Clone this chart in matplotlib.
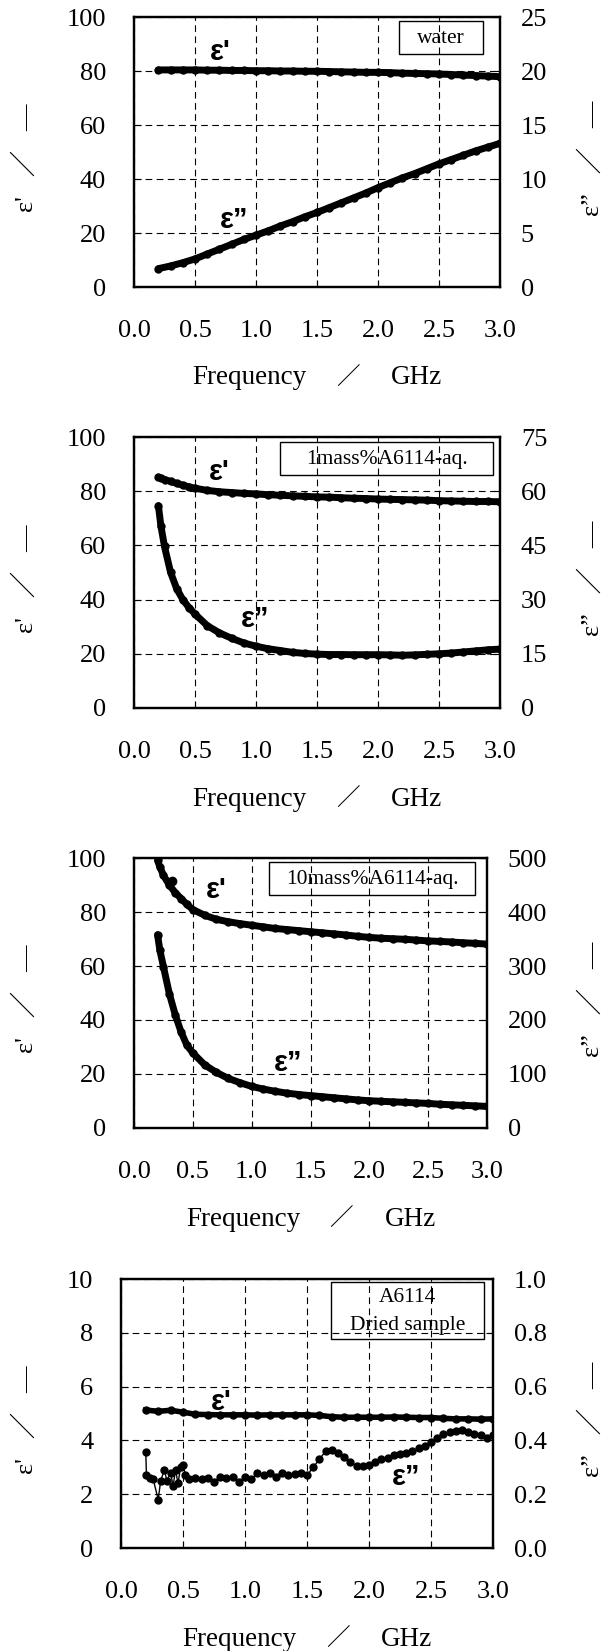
import matplotlib.pyplot as plt
from matplotlib.patches import Rectangle

plt.rcParams['font.family'] = ['Liberation Serif', 'Noto Sans CJK JP']

W, H = 613, 1651

# frequency grids (GHz)
freq_a = [0.2, 0.3, 0.4, 0.5, 0.6, 0.7, 0.8, 0.9, 1.0, 1.1, 1.2, 1.3, 1.4, 1.5,
          1.6, 1.7, 1.8, 1.9, 2.0, 2.1, 2.2, 2.3, 2.4, 2.5, 2.6, 2.7, 2.8, 2.9, 3.0]
freq_b = [0.2, 0.22, 0.25, 0.3, 0.35, 0.4, 0.45, 0.5, 0.6, 0.7, 0.8, 0.9, 1.0,
          1.1, 1.2, 1.3, 1.4, 1.5, 1.6, 1.7, 1.8, 1.9, 2.0, 2.1, 2.2, 2.3, 2.4,
          2.5, 2.6, 2.7, 2.8, 2.9, 3.0]

# water
water_e1 = [80.4, 80.4, 80.4, 80.4, 80.3, 80.3, 80.2, 80.2, 80.1, 80.1, 80.0,
            80.0, 79.9, 79.9, 79.8, 79.7, 79.6, 79.5, 79.5, 79.4, 79.2, 79.1,
            79.0, 78.9, 78.7, 78.5, 78.3, 78.1, 77.9]
water_e2 = [1.7, 1.95, 2.25, 2.6, 3.05, 3.5, 3.95, 4.4, 4.8, 5.2, 5.65, 6.05,
            6.5, 6.9, 7.35, 7.8, 8.25, 8.7, 9.2, 9.65, 10.1, 10.5, 10.95, 11.4,
            11.8, 12.2, 12.6, 12.95, 13.3]

# 1 mass% A6114 aq.
aq1_e1 = [85.2, 84.8, 84.3, 83.6, 82.9, 82.2, 81.6, 81.1, 80.3, 79.8, 79.5,
          79.2, 79.0, 78.7, 78.5, 78.3, 78.1, 77.9, 77.8, 77.6, 77.4, 77.3,
          77.1, 77.0, 76.9, 76.8, 76.7, 76.5, 76.4, 76.3, 76.2, 76.2, 76.1]
aq1_e2 = [56.0, 50.5, 44.7, 37.5, 33.0, 30.0, 27.8, 26.0, 22.8, 20.8, 19.3,
          18.0, 17.1, 16.4, 15.9, 15.4, 15.1, 14.9, 14.8, 14.8, 14.75, 14.75,
          14.75, 14.7, 14.6, 14.7, 14.85, 15.0, 15.2, 15.5, 15.8, 16.1, 16.3]

# 10 mass% A6114 aq.
aq10_e1 = [99.1, 96.7, 93.6, 90.0, 87.2, 85.0, 82.8, 80.9, 78.8, 77.3, 76.4,
           75.7, 75.1, 74.5, 73.9, 73.5, 73.1, 72.7, 72.3, 71.9, 71.5, 71.0,
           70.6, 70.3, 70.1, 69.9, 69.6, 69.3, 69.1, 68.9, 68.6, 68.4, 68.1]
aq10_e2 = [358, 329, 299, 249, 210, 178, 153, 139, 117, 103, 92, 84, 77, 72,
           68, 64.5, 62, 60, 58, 56, 54, 52, 50.5, 49.5, 48.5, 47.5, 46.5,
           45.5, 44, 43, 42, 41, 40]
aq10_spike_f = [0.32]
aq10_spike_e1 = [91.4]

# A6114 dried sample
dry_e1 = [5.13, 5.08, 5.12, 5.05, 4.97, 4.96, 4.95, 4.95, 4.95, 4.94, 4.95,
          4.95, 4.95, 4.95, 4.93, 4.88, 4.86, 4.86, 4.86, 4.86, 4.87, 4.86,
          4.85, 4.85, 4.82, 4.80, 4.80, 4.79, 4.80]
dry_f2 = [0.2, 0.205, 0.23, 0.26, 0.30, 0.32, 0.35, 0.37, 0.40, 0.42, 0.44,
          0.46, 0.48, 0.50, 0.52, 0.55, 0.6, 0.65, 0.7, 0.75, 0.8, 0.85, 0.9,
          0.95, 1.0, 1.05, 1.1, 1.15, 1.2, 1.25, 1.3, 1.35, 1.4, 1.45, 1.5,
          1.55, 1.6, 1.65, 1.7, 1.75, 1.8, 1.85, 1.9, 1.95, 2.0, 2.05, 2.1,
          2.15, 2.2, 2.25, 2.3, 2.35, 2.4, 2.45, 2.5, 2.55, 2.6, 2.65, 2.7,
          2.75, 2.8, 2.85, 2.9, 2.95, 3.0]
dry_e2 = [0.357, 0.272, 0.26, 0.255, 0.18, 0.25, 0.29, 0.25, 0.28, 0.23, 0.29,
          0.24, 0.30, 0.31, 0.27, 0.255, 0.26, 0.255, 0.26, 0.245, 0.265, 0.26,
          0.265, 0.245, 0.265, 0.255, 0.28, 0.27, 0.28, 0.265, 0.28, 0.27,
          0.275, 0.28, 0.27, 0.30, 0.33, 0.36, 0.365, 0.355, 0.34, 0.32, 0.305,
          0.305, 0.31, 0.32, 0.33, 0.335, 0.345, 0.35, 0.355, 0.36, 0.37, 0.38,
          0.395, 0.41, 0.425, 0.43, 0.435, 0.44, 0.43, 0.425, 0.42, 0.41, 0.42]

fig = plt.figure(figsize=(W / 100, H / 100), dpi=100)


def px_axes(l, t, r, b):
    return fig.add_axes([l / W, 1 - b / H, (r - l) / W, (b - t) / H])


def ftext(x, y, s, **kw):
    fig.text(x / W, 1 - y / H, s, **kw)


def panel(box, ylim1, yt1, ylim2, yt2, fmt1, fmt2):
    l, t, r, b = box
    ax = px_axes(l, t, r, b)
    ax2 = ax.twinx()
    ax.set_xlim(0, 3)
    ax.set_xticks([0, 0.5, 1.0, 1.5, 2.0, 2.5, 3.0])
    ax.set_xticklabels(['%.1f' % v for v in ax.get_xticks()])
    ax.set_ylim(*ylim1)
    ax.set_yticks(yt1)
    ax.set_yticklabels([fmt1 % v for v in yt1])
    ax2.set_ylim(*ylim2)
    ax2.set_yticks(yt2)
    ax2.set_yticklabels([fmt2 % v for v in yt2])
    ax.grid(True, color='black', linestyle=(0, (6, 4)), linewidth=0.8)
    ax.tick_params(axis='x', direction='in', length=5, labelsize=19, pad=24)
    ax.tick_params(axis='y', direction='in', length=5, labelsize=19, pad=20)
    ax2.tick_params(axis='y', direction='in', length=5, labelsize=19, pad=15)
    for a in (ax, ax2):
        for sp in a.spines.values():
            sp.set_linewidth(1.6)
    # axis titles
    cx = (l + r) / 2
    ly = b + 91
    ftext(cx - 10, ly, 'Frequency', ha='right', va='center', fontsize=19.5)
    ftext(cx + 31, ly, '／', ha='center', va='center', fontsize=17,
          family=['Noto Sans CJK JP'])
    ftext(cx + 74, ly, 'GHz', ha='left', va='center', fontsize=19.5)
    my = (t + b) / 2 + 6
    ftext(25, my, "ε'   ／   —", rotation=90, ha='center', va='center',
          fontsize=19)
    ftext(591, my, "ε”   ／   —", rotation=90, ha='center', va='center',
          fontsize=19)
    return ax, ax2


def legend_box(l, t, r, b, lines):
    fig.add_artist(Rectangle((l / W, 1 - b / H), (r - l) / W, (b - t) / H,
                             transform=fig.transFigure, fill=False,
                             edgecolor='black', linewidth=1.0))
    n = len(lines)
    for i, s in enumerate(lines):
        y = t + (b - t) * (i + 0.5) / n + 1
        ftext((l + r) / 2, y, s, ha='center', va='center', fontsize=15.5)


lab_kw = dict(fontsize=21, fontweight='bold', family=['Liberation Sans'],
              ha='center', va='center')
thick = dict(color='black', linewidth=5, marker='o', markersize=5,
             solid_capstyle='round', solid_joinstyle='round')

# panel 1: water
ax, ax2 = panel((134, 17, 500, 287), (0, 100), [0, 20, 40, 60, 80, 100],
                (0, 25), [0, 5, 10, 15, 20, 25], '%d', '%d')
ax.plot(freq_a, water_e1, **thick)
ax2.plot(freq_a, water_e2, **thick)
ax.text(0.71, 87, "ε'", **lab_kw)
ax.text(0.82, 25, 'ε”', **lab_kw)
legend_box(399, 21, 483, 54, ['water'])

# panel 2: 1mass%
ax, ax2 = panel((134, 437, 500, 708), (0, 100), [0, 20, 40, 60, 80, 100],
                (0, 75), [0, 15, 30, 45, 60, 75], '%d', '%d')
ax.plot(freq_b, aq1_e1, **thick)
ax2.plot(freq_b, aq1_e2, **thick)
ax.text(0.70, 87, "ε'", **lab_kw)
ax.text(0.99, 33, 'ε”', **lab_kw)
legend_box(280, 442, 493, 475, ['1mass%A6114-aq.'])

# panel 3: 10mass%
ax, ax2 = panel((134, 858, 487, 1128), (0, 100), [0, 20, 40, 60, 80, 100],
                (0, 500), [0, 100, 200, 300, 400, 500], '%d', '%d')
ax.plot(freq_b, aq10_e1, **thick)
ax.plot(aq10_spike_f, aq10_spike_e1, 'o', color='black', markersize=6)
ax2.plot(freq_b, aq10_e2, **thick)
ax.text(0.70, 88, "ε'", **lab_kw)
ax.text(1.31, 24, 'ε”', **lab_kw)
legend_box(269, 862, 475, 895, ['10mass%A6114-aq.'])

# panel 4: dried sample
ax, ax2 = panel((121, 1279, 493, 1548), (0, 10), [0, 2, 4, 6, 8, 10],
                (0, 1.0), [0, 0.2, 0.4, 0.6, 0.8, 1.0], '%d', '%.1f')
ax.plot(freq_a, dry_e1, color='black', linewidth=4, marker='o',
        markersize=5)
ax2.plot(dry_f2, dry_e2, color='black', linewidth=1.0, marker='o',
         markersize=5)
ax.text(0.81, 5.43, "ε'", **lab_kw)
ax.text(2.30, 2.64, 'ε”', **lab_kw)
legend_box(331, 1282, 484, 1339, ['A6114', 'Dried sample'])

fig.savefig('out.png', dpi=100)
